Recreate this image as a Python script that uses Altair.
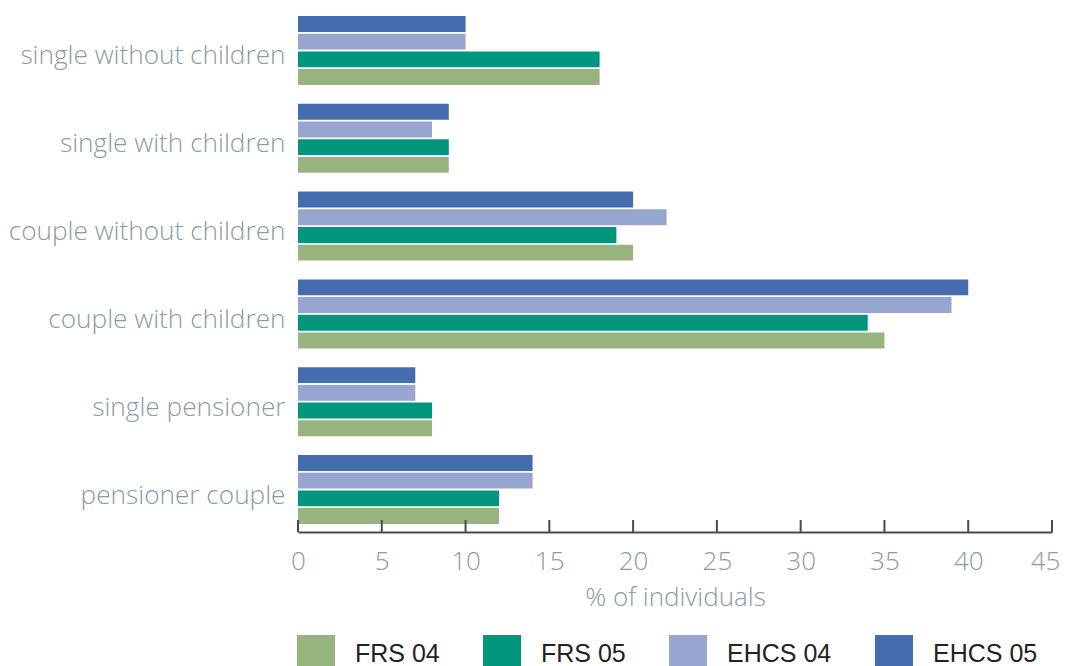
import altair as alt
import pandas as pd

categories = ["single without children", "single with children", "couple without children",
              "couple with children", "single pensioner", "pensioner couple"]
series = ["FRS 04", "FRS 05", "EHCS 04", "EHCS 05"]
frs04 = [18, 9, 20, 35, 8, 12]
frs05 = [18, 9, 19, 34, 8, 12]
ehcs04 = [10, 8, 22, 39, 7, 14]
ehcs05 = [10, 9, 20, 40, 7, 14]
colors = ["#98b47e", "#00967e", "#96a6d0", "#456cae"]
ticks = [0, 5, 10, 15, 20, 25, 30, 35, 40, 45]

rows = []
for s, vals in zip(series, [frs04, frs05, ehcs04, ehcs05]):
    for c, v in zip(categories, vals):
        rows.append({"category": c, "series": s, "value": v})
df = pd.DataFrame(rows)
tick_df = pd.DataFrame({"t": ticks})

W, H = 754, 524
label_color = "#8a9ba6"
font = "Open Sans"

bars = alt.Chart(df).mark_bar().encode(
    x=alt.X("value:Q", scale=alt.Scale(domain=[0, 45], nice=False),
            axis=alt.Axis(values=ticks, title="% of individuals", grid=False, ticks=False,
                          domainColor="#4a4a4a", domainWidth=2, labelPadding=16,
                          labelFlush=False,
                          labelOffset={"condition": {"test": "datum.value == 45", "value": -7},
                                       "value": 0},
                          labelFontSize=26, labelColor=label_color, labelFont=font,
                          labelFontWeight=300,
                          titleFontSize=26, titleColor=label_color, titleFont=font,
                          titleFontWeight=300, titlePadding=10)),
    y=alt.Y("category:N", sort=categories,
            scale=alt.Scale(paddingInner=0.214, paddingOuter=0.091),
            axis=alt.Axis(title=None, domain=False, ticks=False, labelPadding=13,
                          labelOffset=6,
                          labelFontSize=26.2, labelColor=label_color, labelFont=font,
                          labelFontWeight=300, labelLimit=400)),
    yOffset=alt.YOffset("series:N", sort=["EHCS 05", "EHCS 04", "FRS 05", "FRS 04"],
                        scale=alt.Scale(paddingInner=0.1)),
    color=alt.Color("series:N", scale=alt.Scale(domain=series, range=colors),
                    legend=alt.Legend(title=None, orient="none", legendX=-1, legendY=627,
                                      direction="horizontal", columns=4,
                                      symbolType="square", symbolSize=1444,
                                      symbolStrokeWidth=0, symbolOpacity=1,
                                      labelFontSize=25, labelFont="Liberation Sans",
                                      labelColor="#222222", labelOffset=20,
                                      columnPadding=43, padding=0)),
)

tick_marks = alt.Chart(tick_df).mark_rule(color="#4a4a4a", strokeWidth=2).encode(
    x=alt.X("t:Q"),
    y=alt.value(H - 12),
    y2=alt.value(H),
)

chart = alt.layer(bars, tick_marks).properties(
    width=W, height=H,
    autosize=alt.AutoSizeParams(type="none"),
    padding={"left": 290, "top": 0, "right": 9, "bottom": 134},
).configure_view(stroke=None)

chart.save("out.html", embed_options={"renderer": "svg", "actions": False})
